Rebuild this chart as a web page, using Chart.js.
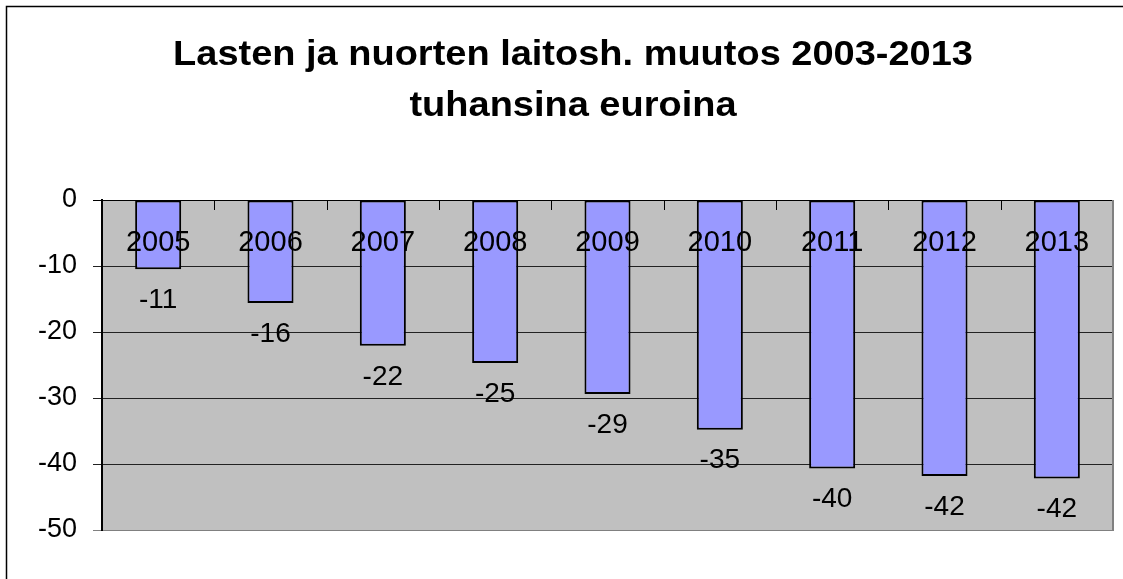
<!DOCTYPE html>
<html>
<head>
<meta charset="utf-8">
<script src="https://cdn.jsdelivr.net/npm/chart.js@4/dist/chart.umd.min.js"></script>
<style>
  body { margin: 0; background: #fff; overflow: hidden; }
  #wrap { width: 1123px; height: 579px; }
  canvas { display: block; }
</style>
</head>
<body>
<div id="wrap"><canvas id="chart" width="1123" height="579"></canvas></div>
<script>
// values (thousands of euros, change vs 2003)
const years = ['2005', '2006', '2007', '2008', '2009', '2010', '2011', '2012', '2013'];
const changes = [-10.5, -15.6, -22.1, -24.7, -29.4, -34.8, -40.7, -41.8, -42.2];
const valueLabels = ['-11', '-16', '-22', '-25', '-29', '-35', '-40', '-42', '-42'];
const titleLines = ['Lasten ja nuorten laitosh. muutos 2003-2013', 'tuhansina euroina'];
const yMin = -50;
const yMax = 0;
const yStep = 10;

const FONT = "'Liberation Sans', Arial, sans-serif";

// background, plot area fill, frame and title
const framePlugin = {
  id: 'frame',
  beforeDraw(chart) {
    const {ctx, chartArea: a} = chart;
    ctx.save();
    ctx.fillStyle = '#fff';
    ctx.fillRect(0, 0, chart.width, chart.height);
    ctx.fillStyle = '#c0c0c0';
    ctx.fillRect(a.left, a.top, a.right - a.left, a.bottom - a.top);
    ctx.restore();
  },
  afterDraw(chart) {
    const {ctx, chartArea: a} = chart;
    ctx.save();
    // plot area right edge
    ctx.strokeStyle = '#808080';
    ctx.lineWidth = 2;
    ctx.beginPath();
    ctx.moveTo(a.right, a.top);
    ctx.lineTo(a.right, a.bottom + 1);
    ctx.stroke();
    // outer chart frame (only top and left are inside the picture)
    ctx.strokeStyle = '#000';
    ctx.lineWidth = 1.5;
    ctx.beginPath();
    ctx.moveTo(6.5, chart.height);
    ctx.lineTo(6.5, 6.5);
    ctx.lineTo(chart.width, 6.5);
    ctx.stroke();
    // title, slightly stretched like the original
    ctx.fillStyle = '#000';
    ctx.font = 'bold 35px ' + FONT;
    ctx.textAlign = 'center';
    ctx.textBaseline = 'middle';
    titleLines.forEach((t, i) => {
      ctx.save();
      ctx.translate(573, 55 + i * 51);
      ctx.scale(1.085, 1);
      ctx.fillText(t, 0, 0);
      ctx.restore();
    });
    ctx.restore();
  }
};

// category ticks + labels sitting under the zero line, and value labels under each bar
const labelPlugin = {
  id: 'labels',
  afterDatasetsDraw(chart) {
    const {ctx} = chart;
    const x = chart.scales.x;
    const y = chart.scales.y;
    const y0 = y.getPixelForValue(0);
    ctx.save();
    ctx.strokeStyle = '#000';
    ctx.lineWidth = 1;
    ctx.beginPath();
    for (let i = 0; i < years.length - 1; i++) {
      const bx = Math.round((x.getPixelForValue(i) + x.getPixelForValue(i + 1)) / 2) + 0.5;
      ctx.moveTo(bx, y0);
      ctx.lineTo(bx, y0 + 10);
    }
    ctx.stroke();

    ctx.fillStyle = '#000';
    ctx.textAlign = 'center';
    ctx.textBaseline = 'middle';
    ctx.font = '29px ' + FONT;
    years.forEach((yr, i) => {
      ctx.fillText(yr, x.getPixelForValue(i), y0 + 43);
    });
    ctx.font = '28px ' + FONT;
    const meta = chart.getDatasetMeta(0);
    meta.data.forEach((bar, i) => {
      ctx.fillText(valueLabels[i], bar.x, bar.y + 31);
    });
    ctx.restore();
  }
};

new Chart(document.getElementById('chart'), {
  type: 'bar',
  data: {
    labels: years,
    datasets: [{
      data: changes,
      backgroundColor: '#9999ff',
      borderColor: '#000',
      borderWidth: 2,
      borderSkipped: false,
      categoryPercentage: 1,
      barPercentage: 0.41
    }]
  },
  options: {
    responsive: false,
    animation: false,
    devicePixelRatio: 1,
    layout: { padding: { top: 200, right: 10, bottom: 49, left: 0 } },
    plugins: {
      legend: { display: false },
      title: { display: false },
      tooltip: { enabled: false }
    },
    scales: {
      x: { display: false },
      y: {
        min: yMin,
        max: yMax,
        afterFit(scale) { scale.width = 102; },
        ticks: {
          stepSize: yStep,
          color: '#000',
          padding: 16,
          font: { family: FONT, size: 27 }
        },
        grid: {
          tickLength: 9,
          lineWidth: 1,
          color: c => c.tick.value === 0 ? '#000' : (c.tick.value === yMin ? '#808080' : '#222')
        },
        border: { color: '#000', width: 2 }
      }
    }
  },
  plugins: [framePlugin, labelPlugin]
});
</script>
</body>
</html>
